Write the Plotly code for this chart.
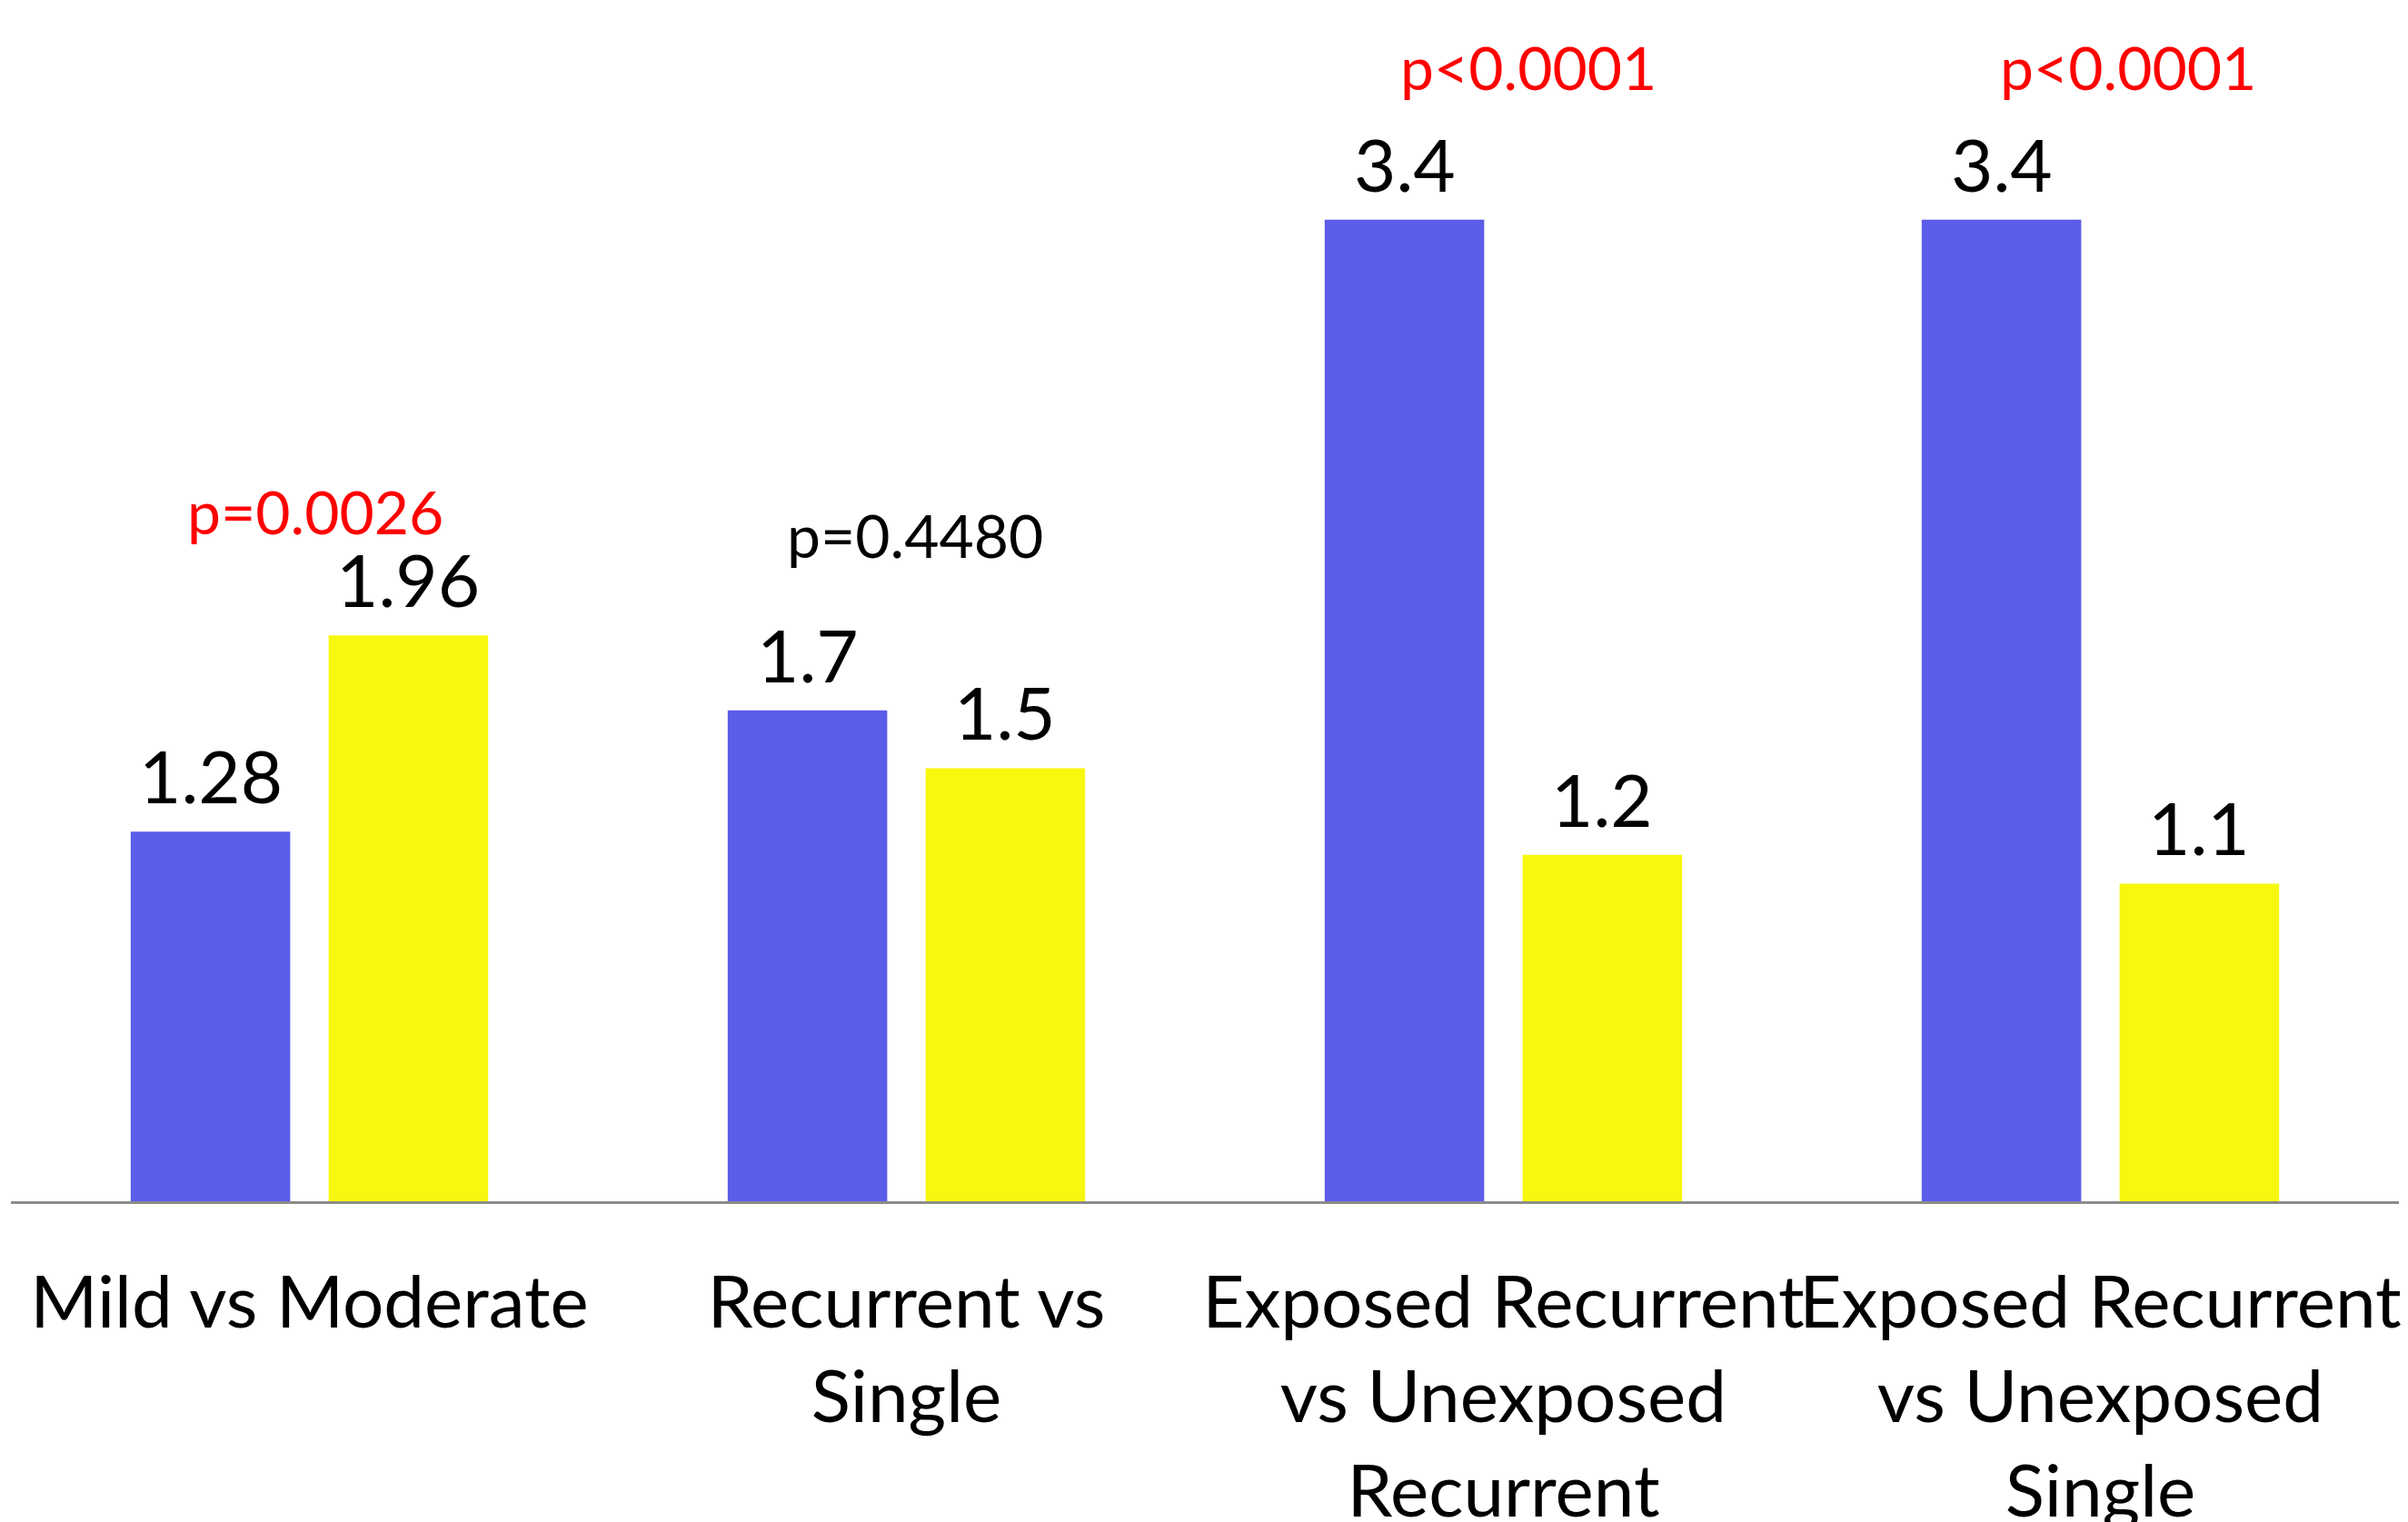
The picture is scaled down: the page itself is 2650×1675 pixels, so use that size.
import plotly.graph_objects as go

# Comparison groups (x-axis categories, line breaks as displayed)
categories = [
    "Mild vs Moderate",
    "Recurrent vs<br>Single",
    "Exposed Recurrent<br>vs Unexposed<br>Recurrent",
    "Exposed Recurrent<br>vs Unexposed<br>Single",
]

# Ratio values for the two bars of each comparison
first_group = [1.28, 1.7, 3.4, 3.4]
second_group = [1.96, 1.5, 1.2, 1.1]

# p-values shown above each comparison
p_labels = ["p=0.0026", "p=0.4480", "p<0.0001", "p<0.0001"]
p_heights = [2.39, 2.31, 3.93, 3.93]
p_colors = ["#FF0000", "#000000", "#FF0000", "#FF0000"]

FONT = "Lato"
BLUE = "#5B5DE8"
YELLOW = "#F8F70F"
BARGAP = 0.337
BARGROUPGAP = 0.194

fig = go.Figure()
for vals, color in ((first_group, BLUE), (second_group, YELLOW)):
    fig.add_trace(go.Bar(
        x=categories,
        y=vals,
        marker=dict(color=color, line=dict(width=0)),
        showlegend=False,
    ))

# value labels centred over each bar of a pair
slot = (1 - BARGAP) / 2
for k, vals in enumerate((first_group, second_group)):
    shift = (k - 0.5) * slot
    for i, v in enumerate(vals):
        fig.add_annotation(
            x=i + shift, y=v, xref="x", yref="y",
            text=str(v), showarrow=False,
            font=dict(family=FONT, size=80, color="#000000"),
            xanchor="center", yanchor="middle", yshift=62,
        )

# small horizontal nudges so the p-value labels sit over their pair
p_offsets = [0.01, 0.015, 0.042, 0.046]
for i, (lab, h, col) in enumerate(zip(p_labels, p_heights, p_colors)):
    fig.add_annotation(
        x=i + p_offsets[i], y=h, xref="x", yref="y",
        text=lab, showarrow=False,
        font=dict(family=FONT, size=66, color=col),
        xanchor="center", yanchor="middle",
    )

fig.update_layout(
    width=2650, height=1675,
    margin=dict(l=12, r=10, t=51, b=353, autoexpand=False),
    paper_bgcolor="white", plot_bgcolor="white",
    barmode="group", bargap=BARGAP, bargroupgap=BARGROUPGAP,
    font=dict(family=FONT, size=80, color="#000000"),
)
fig.update_xaxes(
    type="category", automargin=False, tickangle=0,
    showline=True, linecolor="#8C8C8C", linewidth=3,
    showgrid=False, ticks="", ticklabelstandoff=40,
    tickfont=dict(family=FONT, size=80, color="#000000"),
)
fig.update_yaxes(
    range=[0, 4], visible=False, showgrid=False, zeroline=False,
)

fig.write_html("out.html")
